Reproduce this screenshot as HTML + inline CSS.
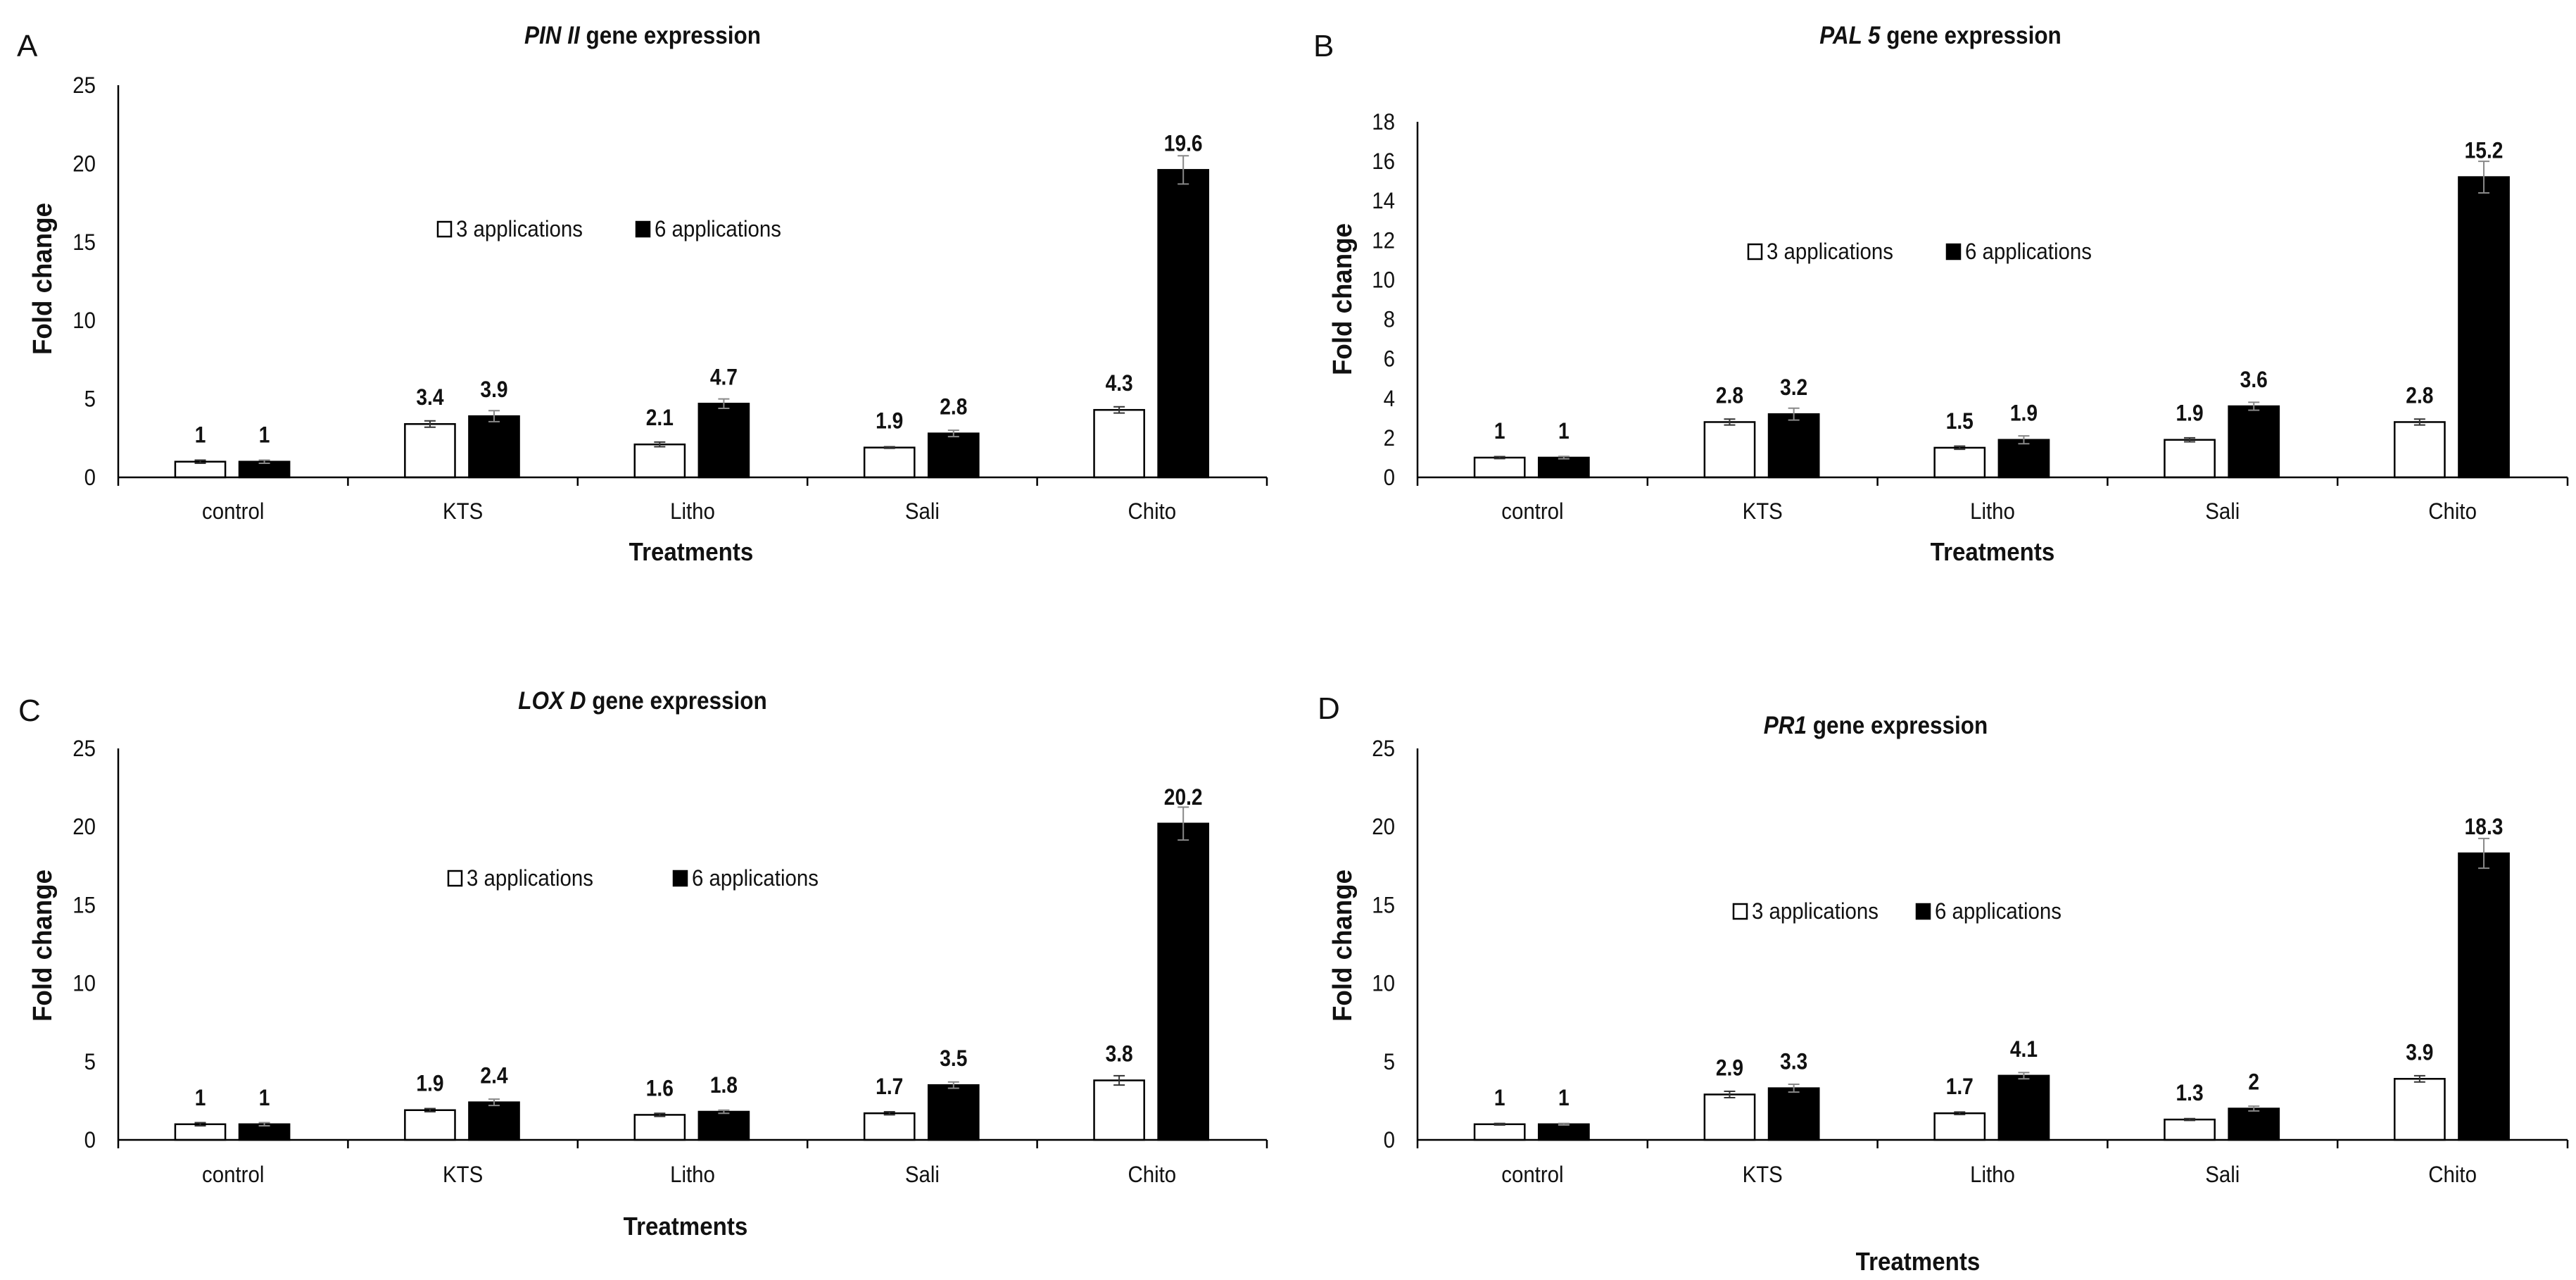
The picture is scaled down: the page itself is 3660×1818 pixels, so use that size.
<!DOCTYPE html>
<html><head><meta charset="utf-8"><style>
html,body{margin:0;padding:0;background:#fff;overflow:hidden}
svg{display:block}
text{font-family:"Liberation Sans",sans-serif;fill:#111}
</style></head><body>
<svg id="fig" width="3660" height="1818" viewBox="0 0 3660 1818" xmlns="http://www.w3.org/2000/svg"></svg>
<script>
const categories = ["control","KTS","Litho","Sali","Chito"];
const seriesNames = ["3 applications","6 applications"];
// Panel A PIN II
const aWhite = [1,3.4,2.1,1.9,4.3];
const aBlack = [1,3.9,4.7,2.8,19.6];
const aWhiteErr = [0.1,0.2,0.15,0.05,0.2];
const aBlackErr = [0.1,0.35,0.3,0.2,0.9];
const aTicks = [0,5,10,15,20,25];
// Panel B PAL 5
const bWhite = [1,2.8,1.5,1.9,2.8];
const bBlack = [1,3.2,1.9,3.6,15.2];
const bWhiteErr = [0.05,0.15,0.08,0.1,0.15];
const bBlackErr = [0.06,0.3,0.2,0.2,0.8];
const bTicks = [0,2,4,6,8,10,12,14,16,18];
// Panel C LOX D
const cWhite = [1,1.9,1.6,1.7,3.8];
const cBlack = [1,2.4,1.8,3.5,20.2];
const cWhiteErr = [0.1,0.1,0.1,0.1,0.3];
const cBlackErr = [0.1,0.2,0.1,0.2,1.05];
const cTicks = [0,5,10,15,20,25];
// Panel D PR1
const dWhite = [1,2.9,1.7,1.3,3.9];
const dBlack = [1,3.3,4.1,2,18.3];
const dWhiteErr = [0.05,0.2,0.08,0.06,0.2];
const dBlackErr = [0.05,0.25,0.2,0.15,0.95];
const dTicks = [0,5,10,15,20,25];

const NS="http://www.w3.org/2000/svg";
const svg=document.getElementById('fig');
function el(tag,attrs,parent){const e=document.createElementNS(NS,tag);for(const k in attrs)e.setAttribute(k,attrs[k]);(parent||svg).appendChild(e);return e;}
function ctext(parent,x,y,str,size,anchor,bold,sx){
  const g=el('g',{transform:`translate(${x},${y}) scale(${sx||0.92},1)`},parent);
  const t=el('text',{x:0,y:0,'font-size':size,'text-anchor':anchor||'middle','font-weight':bold?'bold':'normal'},g);
  t.textContent=str;return t;
}
function panel(cfg){
  const g=el('g',{});
  
  
  const {x0,x1,y0,yTop,max}=cfg;
  const ys=v=>y0-(v/max)*(y0-yTop);
  const w=(x1-x0)/categories.length;
  const L=el('text',{x:cfg.letter[0],y:cfg.letter[1],'font-size':44},g);L.textContent=cfg.id.toUpperCase();
  
  const tg=el('g',{transform:`translate(${cfg.title[0]},${cfg.title[1]+12}) scale(0.9,1)`},g);
  const tt=el('text',{x:0,y:0,'font-size':35,'font-weight':'bold','text-anchor':'middle'},tg);
  
  const ti=el('tspan',{'font-style':'italic'},tt);ti.textContent=cfg.gene;
  const tr=el('tspan',{},tt);tr.textContent=' gene expression';
  cfg.ticks.forEach(v=>{const t=ctext(g,x0-32,ys(v)+11,String(v),32,'end',false,0.92);
    });
  const yl=el('text',{x:0,y:0,'font-size':38,'font-weight':'bold','text-anchor':'middle',textLength:216,lengthAdjust:'spacingAndGlyphs',transform:`translate(${cfg.ylab[0]+14},${cfg.ylab[1]}) rotate(-90)`},g);
  yl.textContent='Fold change';
  const series=[[cfg.white,cfg.whiteErr,'#fff',0.248],[cfg.black,cfg.blackErr,'#000',0.527]];
  series.forEach((s,si)=>{
    s[0].forEach((v,i)=>{
      const bx=x0+i*w+s[3]*w, bw=0.218*w;
      const r=el('rect',{x:bx,y:ys(v),width:bw,height:y0-ys(v),fill:s[2],stroke:'#000','stroke-width':2.5},g);
      
      
      const cx=bx+bw/2,e=s[1][i];
      const eb=el('path',{d:`M${cx},${ys(v+e)}V${ys(v-e)}M${cx-8},${ys(v+e)}H${cx+8}M${cx-8},${ys(v-e)}H${cx+8}`,stroke:si?'#888':'#333','stroke-width':2,fill:'none'},g);
      
      const lb=ctext(g,cx,ys(v)-27,String(v),32,'middle',true,0.88);
      
    });
  });
  const ya=el('line',{x1:x0,y1:yTop,x2:x0,y2:y0+12,stroke:'#000','stroke-width':2.5},g);
  
  const xa=el('line',{x1:x0,y1:y0,x2:x1,y2:y0,stroke:'#000','stroke-width':2.5},g);
  
  for(let i=1;i<=categories.length;i++)el('line',{x1:x0+i*w,y1:y0,x2:x0+i*w,y2:y0+12,stroke:'#000','stroke-width':2.5},g);
  categories.forEach((c,i)=>{const t=ctext(g,x0+(i+0.5)*w,cfg.catY+11,c,32,'middle',false,0.92);
    });
  const xt=ctext(g,cfg.xt[0],cfg.xt[1]+12,'Treatments',36,'middle',true,0.92);
  
  const lx=cfg.leg[0],ly=cfg.leg[1];
  [0,1].forEach(k=>{
    const bx=lx+k*cfg.legGap;
    const r=el('rect',{x:bx,y:ly-10,width:19,height:21,fill:k?'#000':'#fff',stroke:'#000','stroke-width':2.5},g);
    
    const t=ctext(g,bx+26,ly+11,seriesNames[k],32,'start',false,0.92);
    
  });
}
panel({id:'a',gene:'PIN II',white:aWhite,black:aBlack,whiteErr:aWhiteErr,blackErr:aBlackErr,ticks:aTicks,max:25,
  x0:168,x1:1800,y0:678,yTop:121,letter:[24,80],title:[913,50],ylab:[59,396],catY:726,xt:[982,784],leg:[622,325],legGap:282});
panel({id:'b',gene:'PAL 5',white:bWhite,black:bBlack,whiteErr:bWhiteErr,blackErr:bBlackErr,ticks:bTicks,max:18,
  x0:2014,x1:3648,y0:678,yTop:173,letter:[1866,80],title:[2757,50],ylab:[1906,425],catY:726,xt:[2831,784],leg:[2484,357],legGap:282});
panel({id:'c',gene:'LOX D',white:cWhite,black:cBlack,whiteErr:cWhiteErr,blackErr:cBlackErr,ticks:cTicks,max:25,
  x0:168,x1:1800,y0:1619,yTop:1063,letter:[26,1024],title:[913,995],ylab:[59,1343],catY:1668,xt:[974,1742],leg:[637,1247],legGap:320});
panel({id:'d',gene:'PR1',white:dWhite,black:dBlack,whiteErr:dWhiteErr,blackErr:dBlackErr,ticks:dTicks,max:25,
  x0:2014,x1:3648,y0:1619,yTop:1063,letter:[1872,1021],title:[2665,1030],ylab:[1906,1343],catY:1668,xt:[2725,1792],leg:[2463,1294],legGap:260});
</script>
</body></html>
